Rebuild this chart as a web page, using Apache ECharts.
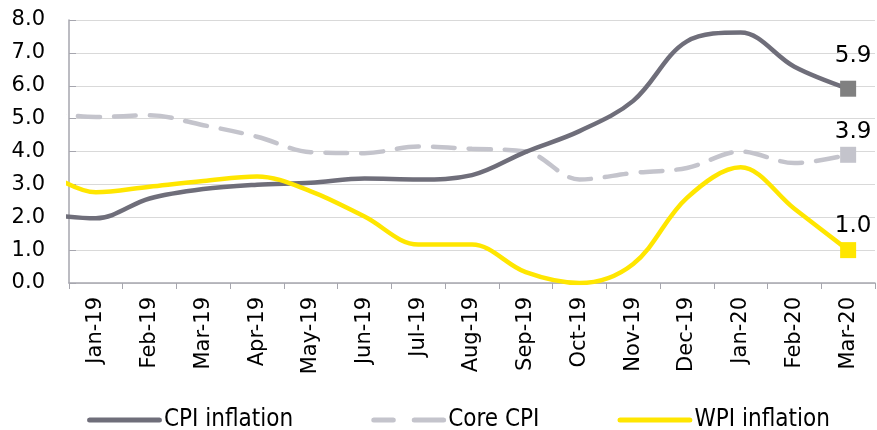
<!DOCTYPE html>
<html>
<head>
<meta charset="utf-8">
<script src="https://cdn.jsdelivr.net/npm/echarts@6/dist/echarts.min.js"></script>
<style>
  html, body { margin: 0; padding: 0; background: #fff; }
  #chart { width: 877px; height: 430px; }
</style>
</head>
<body>
<div id="chart"></div>
<script>
// months shown on the axis
let months = ['Jan-19', 'Feb-19', 'Mar-19', 'Apr-19', 'May-19', 'Jun-19', 'Jul-19', 'Aug-19',
  'Sep-19', 'Oct-19', 'Nov-19', 'Dec-19', 'Jan-20', 'Feb-20', 'Mar-20']
let yTicks = [0, 1, 2, 3, 4, 5, 6, 7, 8]

// first value is Dec-18, only the part right of the axis shows
let cpi = [2.11, 1.97, 2.57, 2.86, 2.99, 3.05, 3.18, 3.15, 3.28, 3.99, 4.62, 5.54, 7.35, 7.62, 6.58, 5.91]
let coreCpi = [5.2, 5.05, 5.1, 4.8, 4.45, 3.98, 3.95, 4.15, 4.08, 4.0, 3.15, 3.35, 3.5, 4.0, 3.65, 3.9]
let wpi = [3.46, 2.76, 2.93, 3.1, 3.24, 2.79, 2.02, 1.17, 1.17, 0.33, 0.0, 0.58, 2.59, 3.52, 2.26, 1.0]

function toPoints (arr) {
  // index -1 is Dec-18
  return arr.map(function (v, i) { return [i - 1, v] })
}

let lastIdx = cpi.length - 1

function makeSeries (name, data, color, markColor, dashed, labelGap) {
  return {
    name: name,
    type: 'line',
    xAxisIndex: 1,
    data: toPoints(data),
    smooth: 0.35,
    clip: true,
    symbol: 'rect',
    symbolSize: function (v, p) { return p.dataIndex === lastIdx ? 16 : 0 },
    showAllSymbol: true,
    itemStyle: { color: markColor },
    lineStyle: { color: color, width: 4.5, type: dashed ? [22, 14] : 'solid', cap: 'round' },
    label: {
      show: true,
      position: 'top',
      distance: labelGap,
      offset: [5, 0],
      color: '#000',
      fontSize: 23,
      fontFamily: 'DejaVu Sans',
      formatter: function (p) { return p.dataIndex === lastIdx ? p.value[1].toFixed(1) : '' }
    },
    emphasis: { disabled: true },
    z: dashed ? 2 : 3
  }
}

let chartDom = document.getElementById('chart')
let myChart = echarts.init(chartDom)
let option = {
  animation: false,
  color: ['#6f6e7a', '#c4c4cc', '#ffe600'],
  grid: { left: 69, right: 2, top: 20, bottom: 147, containLabel: false },
  legend: {
    top: 403,
    left: 82,
    itemGap: 78,
    itemWidth: 75,
    itemHeight: 5,
    symbolKeepAspect: false,
    textStyle: { fontFamily: 'Liberation Sans Narrow, DejaVu Sans Condensed', fontSize: 24, color: '#000', padding: [0, 0, 0, -3] },
    data: [
      { name: 'CPI inflation', icon: 'path://M2,0H73A2.5,2.5 0 0 1 73,5H2A2.5,2.5 0 0 1 2,0Z', itemStyle: { color: '#6f6e7a' } },
      { name: 'Core CPI', icon: 'path://M2,0H22A2.5,2.5 0 0 1 22,5H2A2.5,2.5 0 0 1 2,0Z M43,0H73A2.5,2.5 0 0 1 73,5H43A2.5,2.5 0 0 1 43,0Z', itemStyle: { color: '#c4c4cc' } },
      { name: 'WPI inflation', icon: 'path://M2,0H73A2.5,2.5 0 0 1 73,5H2A2.5,2.5 0 0 1 2,0Z', itemStyle: { color: '#ffe600' } }
    ]
  },
  xAxis: [
    {
      type: 'category',
      data: months,
      boundaryGap: true,
      axisLine: { lineStyle: { color: '#a6a6ae', width: 1.5 } },
      axisTick: { show: true, length: 6, lineStyle: { color: '#a6a6ae' } },
      axisLabel: {
        rotate: 90,
        margin: 14,
        color: '#000',
        fontSize: 21,
        fontFamily: 'DejaVu Sans',
        interval: 0
      }
    },
    {
      type: 'value',
      min: -0.5,
      max: months.length - 0.5,
      show: false
    }
  ],
  yAxis: {
    type: 'value',
    min: yTicks[0],
    max: yTicks[yTicks.length - 1],
    interval: 1,
    axisLine: { show: true, onZero: false, lineStyle: { color: '#a6a6ae', width: 1.5 } },
    axisTick: { show: true, inside: true, length: 7, lineStyle: { color: '#a6a6ae' } },
    splitLine: { lineStyle: { color: '#d9d9d9', width: 1 } },
    axisLabel: {
      margin: 24,
      color: '#000',
      fontSize: 21,
      fontFamily: 'DejaVu Sans',
      formatter: function (value) { return value.toFixed(1) }
    }
  },
  series: [
    makeSeries('CPI inflation', cpi, '#6f6e7a', '#808080', false, 13),
    makeSeries('Core CPI', coreCpi, '#c4c4cc', '#c4c4cc', true, 3),
    makeSeries('WPI inflation', wpi, '#ffe600', '#ffe600', false, 5)
  ]
}
myChart.setOption(option, true)
</script>
</body>
</html>
